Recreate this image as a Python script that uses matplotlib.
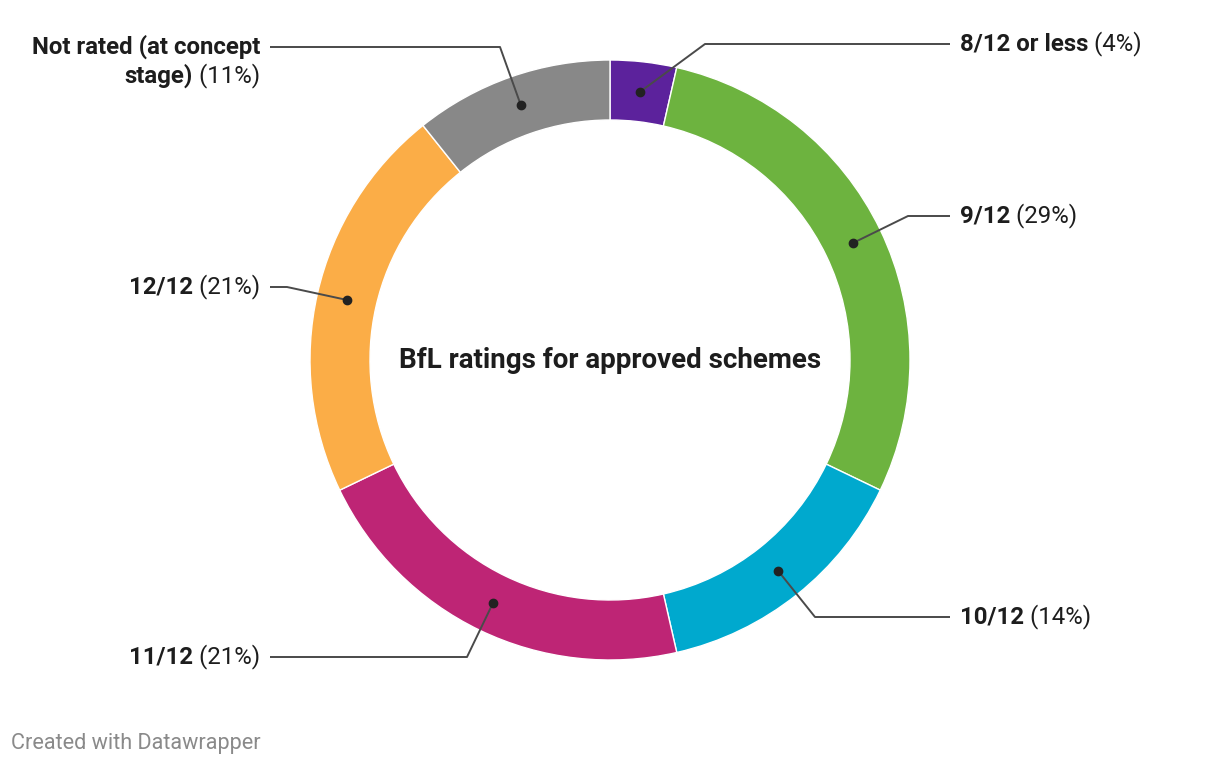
import numpy as np
import matplotlib.pyplot as plt

plt.rcParams['font.family'] = ['Roboto', 'DejaVu Sans']

# data (number of schemes per rating, 28 in total)
categories = ['8/12 or less', '9/12', '10/12', '11/12', '12/12', 'Not rated (at concept\nstage)']
counts = [1, 8, 4, 6, 6, 3]
colors = ['#5c229c', '#6db33f', '#00a9ce', '#be2575', '#fbad47', '#888888']

W, H = 1220, 766
CX, CY = 610, H - 360
R_OUT, RING = 300, 60

# label layout in pixel coords (y from top): elbow x, elbow y, line end x, side
layout = [
    (705, 44, 950, 'r'),
    (908, 216, 950, 'r'),
    (815, 617, 950, 'r'),
    (467, 657, 270, 'l'),
    (287, 287, 270, 'l'),
    (500, 47, 270, 'l'),
]

fig = plt.figure(figsize=(W / 100, H / 100), dpi=100)
ax = fig.add_axes([0, 0, 1, 1])
wedges, _ = ax.pie(
    counts,
    colors=colors,
    startangle=90,
    counterclock=False,
    radius=R_OUT,
    center=(CX, CY),
    wedgeprops=dict(width=RING, edgecolor='white', linewidth=1),
)
ax.set_xlim(0, W)
ax.set_ylim(0, H)
ax.set_aspect('equal')
ax.set_axis_off()

fig.canvas.draw()
renderer = fig.canvas.get_renderer()

total = sum(counts)
fs = 17.3
dark = '#1d1d1d'
for w, cat, val, (ex, ey, lx, side) in zip(wedges, categories, counts, layout):
    mid = np.deg2rad((w.theta1 + w.theta2) / 2)
    r = R_OUT - RING / 2
    dx, dy = CX + r * np.cos(mid), CY + r * np.sin(mid)
    ax.plot([dx, ex, lx], [dy, H - ey, H - ey], color='#4a4a4a', lw=1.4, solid_capstyle='butt')
    ax.plot(dx, dy, 'o', color='#222222', ms=6)
    ty = H - ey
    pct = f' ({round(100 * val / total)}%)'
    if side == 'r':
        t = ax.text(lx + 10, ty, cat, fontsize=fs, fontweight='bold', color=dark,
                    ha='left', va='center')
        bb = t.get_window_extent(renderer)
        ax.text(bb.x1, ty, pct, fontsize=fs, color=dark, ha='left', va='center')
    else:
        lines = cat.split('\n')
        last_y = ty - 29 * (len(lines) - 1)
        t = ax.text(lx - 10, last_y, pct, fontsize=fs, color=dark, ha='right', va='center')
        bb = t.get_window_extent(renderer)
        ax.text(bb.x0, last_y, lines[-1], fontsize=fs, fontweight='bold', color=dark,
                ha='right', va='center')
        for i, ln in enumerate(lines[:-1]):
            ax.text(lx - 10, ty - 29 * i, ln, fontsize=fs, fontweight='bold', color=dark,
                    ha='right', va='center')

ax.text(CX, CY, 'BfL ratings for approved schemes', fontsize=20, fontweight='bold',
        color=dark, ha='center', va='center')
ax.text(11, H - 743, 'Created with Datawrapper', fontsize=15.6, color='#8a8a8a',
        ha='left', va='center')

fig.savefig('out.png', dpi=100)
